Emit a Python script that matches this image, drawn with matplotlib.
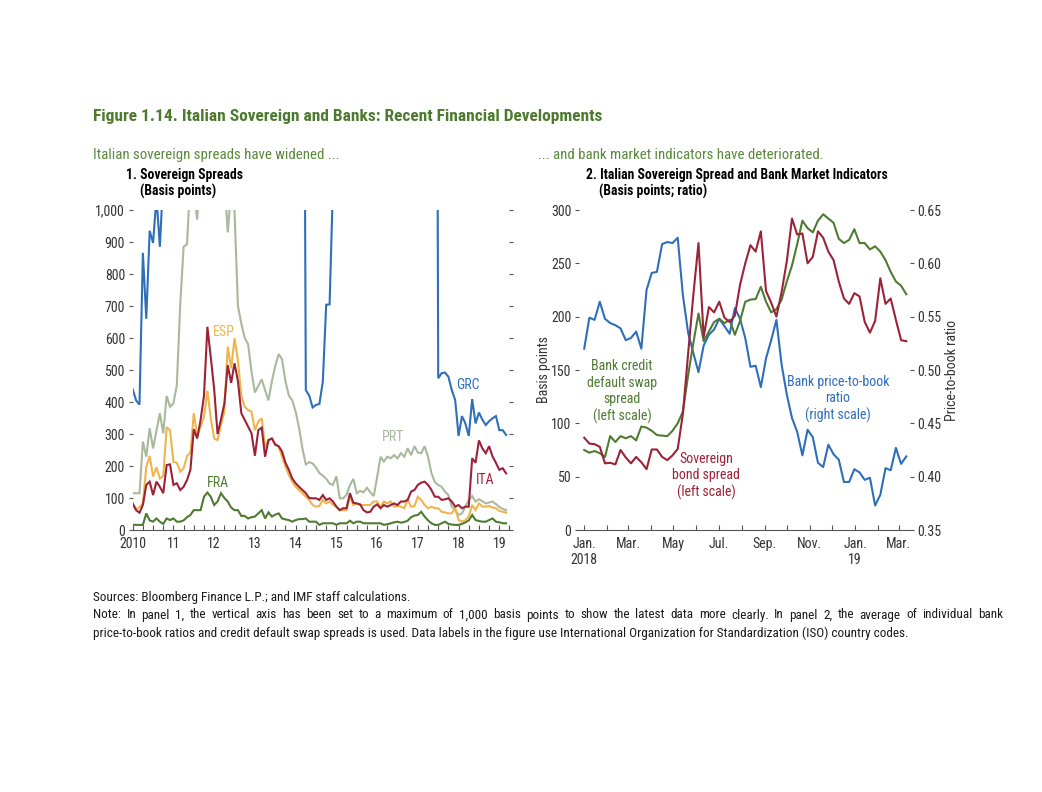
import numpy as np
import pandas as pd
import matplotlib
matplotlib.use('Agg')
import matplotlib.pyplot as plt
import matplotlib.ticker as mticker
import matplotlib.dates as mdates
from matplotlib import font_manager

# ---- panel 1: monthly sovereign spreads, Jan 2010 onwards (basis points)
grc = [440, 405, 392, 866, 660, 935, 897, 1040, 885, 1100, 1120, 1050,
       1100, 1050, 1150, 1250, 1300, 1450, 1400, 1600, 1950, 2100, 2400, 2700,
       2900, 3300, 3000, 2100, 2500, 2800, 2600, 2300, 2050, 1650, 1300, 1150,
       1150, 1050, 1180, 1100, 1150, 1060, 1120, 1050, 1020, 1080, 1060, 1040,
       1030, 1040, 3000, 437, 420, 383, 391, 394, 463, 704, 705, 1080,
       1300, 1200, 1500, 1350, 1550, 1700, 1450, 1350, 1200, 1150, 1100, 1120,
       1200, 1250, 1150, 1080, 1060, 1090, 1100, 1050, 1070, 1080, 1060, 1100,
       1120, 1150, 1060, 1050, 1030, 4000, 474, 490, 492, 479, 437, 406,
       294, 356, 333, 294, 409, 333, 367, 345, 328, 340, 349, 356,
       312, 312, 297]
prt = [115, 115, 115, 276, 229, 318, 255, 310, 365, 302, 419, 385,
       396, 453, 705, 885, 893, 1100, 1060, 970, 1150, 1300, 1500, 1450,
       1600, 1400, 1250, 1100, 930, 1060, 995, 700, 645, 600, 580, 495,
       430, 450, 471, 437, 405, 465, 513, 550, 533, 465, 420, 405,
       370, 320, 255, 205, 212, 208, 195, 178, 170, 160, 145, 141,
       168, 99, 99, 110, 140, 160, 115, 122, 118, 132, 118, 106,
       165, 229, 214, 229, 224, 234, 224, 240, 229, 255, 234, 262,
       242, 240, 262, 229, 178, 150, 141, 135, 120, 109, 73, 62,
       47, 52, 73, 94, 106, 89, 96, 90, 83, 86, 89, 81,
       72, 66, 62]
esp = [78, 65, 71, 83, 198, 231, 167, 196, 161, 169, 321, 312,
       213, 210, 182, 193, 231, 242, 365, 294, 323, 354, 435, 349,
       286, 281, 328, 370, 573, 505, 599, 530, 420, 385, 375, 370,
       312, 339, 349, 260, 281, 286, 271, 260, 229, 198, 172, 151,
       135, 125, 115, 104, 94, 78, 73, 75, 94, 83, 89, 78,
       73, 62, 62, 62, 104, 78, 83, 78, 78, 78, 78, 89,
       89, 73, 89, 83, 89, 73, 75, 73, 68, 94, 73, 75,
       104, 94, 78, 68, 73, 68, 68, 57, 55, 52, 52, 68,
       31, 26, 31, 42, 78, 62, 83, 73, 73, 75, 70, 68,
       60, 57, 54]
ita = [83, 62, 54, 78, 141, 151, 109, 151, 135, 115, 203, 205,
       141, 146, 125, 135, 156, 188, 315, 286, 344, 419, 635, 540,
       440, 300, 345, 395, 515, 460, 521, 465, 365, 344, 323, 302,
       232, 312, 320, 229, 281, 286, 266, 262, 245, 210, 188, 161,
       146, 135, 125, 115, 100, 99, 99, 94, 109, 94, 99, 89,
       73, 62, 68, 68, 115, 85, 83, 80, 62, 55, 57, 73,
       80, 68, 78, 73, 78, 83, 78, 89, 89, 94, 120, 125,
       141, 148, 151, 141, 125, 104, 104, 94, 96, 99, 89, 73,
       78, 68, 73, 73, 224, 210, 280, 255, 240, 262, 230, 210,
       188, 193, 177]
fra = [16, 16, 16, 16, 52, 30, 26, 36, 26, 19, 36, 31,
       36, 26, 26, 30, 40, 47, 62, 62, 62, 104, 117, 104,
       78, 89, 115, 100, 89, 70, 62, 62, 44, 44, 36, 40,
       42, 52, 62, 36, 55, 42, 48, 52, 36, 33, 31, 26,
       31, 34, 34, 36, 26, 26, 26, 16, 21, 21, 21, 21,
       16, 21, 21, 21, 29, 21, 26, 26, 21, 21, 21, 21,
       21, 21, 16, 18, 21, 24, 26, 23, 25, 29, 40, 45,
       47, 57, 42, 30, 21, 16, 16, 21, 26, 19, 17, 16,
       16, 19, 24, 30, 47, 31, 28, 26, 26, 31, 36, 26,
       24, 21, 21]
year_labels = ['2010', '11', '12', '13', '14', '15', '16', '17', '18', '19']

# ---- panel 2: weekly, from 1 Jan 2018
sov_spread = [86.5, 81, 80.5, 78, 62.5, 63, 61.5, 75, 68, 62.5,
              68.5, 63.5, 57, 75.5, 75.5, 68.5, 65.5, 70, 76, 109,
              165, 220, 269, 181, 209, 204, 214, 199, 195, 201,
              230, 250, 267, 261, 280, 224, 213, 200, 223, 252,
              292, 277, 278, 250, 256, 280, 274, 261, 253, 233,
              217, 212, 222, 219, 195, 185, 196, 236, 212, 217,
              197, 178, 177]
bank_cds = [75, 72.5, 74, 72, 68.5, 88, 82.5, 88, 86, 88,
            84, 97, 96, 93, 89, 88.5, 88, 93, 100, 111,
            145, 175, 203, 177, 186, 195, 198, 194, 197, 183,
            196, 214, 216, 216.5, 228, 214, 204, 207, 216, 233,
            248, 268, 290, 283, 279, 290, 296, 292, 288, 273,
            269, 272, 282, 269, 269, 263, 266, 261, 253, 242,
            233, 229, 221]
pb_ratio = [0.520, 0.549, 0.547, 0.564, 0.548, 0.544, 0.542, 0.539, 0.528, 0.530,
            0.536, 0.520, 0.575, 0.591, 0.592, 0.618, 0.620, 0.619, 0.624, 0.570,
            0.535, 0.516, 0.498, 0.523, 0.533, 0.538, 0.548, 0.541, 0.534, 0.558,
            0.548, 0.530, 0.503, 0.504, 0.484, 0.511, 0.528, 0.547, 0.505, 0.477,
            0.455, 0.442, 0.420, 0.444, 0.437, 0.413, 0.409, 0.430, 0.421, 0.416,
            0.395, 0.395, 0.407, 0.404, 0.397, 0.399, 0.373, 0.383, 0.408, 0.406,
            0.427, 0.412, 0.419]
month_labels = ['Jan.\n2018', 'Mar.', 'May', 'Jul.', 'Sep.', 'Nov.', 'Jan.\n19', 'Mar.']

note_sources = 'Sources: Bloomberg Finance L.P.; and IMF staff calculations.'
note_1 = ('Note: In panel 1, the vertical axis has been set to a maximum of 1,000 basis points '
          'to show the latest data more clearly. In panel 2, the average of individual bank')
note_2 = ('price-to-book ratios and credit default swap spreads is used. Data labels in the '
          'figure use International Organization for Standardization (ISO) country codes.')

# colours
c_grc = '#2f6fba'
c_prt = '#a9b99c'
c_esp = '#efb54c'
c_ita = '#9c2337'
c_fra = '#4f7b32'
c_title = '#4e7a2f'
c_sub = '#5a893c'
c_tick = '#333333'

# narrow font if one is around
names = {f.name for f in font_manager.fontManager.ttflist}
narrow = None
for cand in ['Roboto Condensed', 'Liberation Sans Narrow', 'Open Sans Condensed', 'Arial Narrow']:
    if cand in names:
        narrow = cand
        break
if narrow:
    plt.rcParams['font.family'] = [narrow, 'DejaVu Sans']
else:
    plt.rcParams['font.family'] = ['DejaVu Sans']
    plt.rcParams['font.stretch'] = 'condensed'

W, H = 1042, 792
fig = plt.figure(figsize=(W / 100, H / 100), dpi=100)


def fx(x):
    return x / W


def fy(y):
    return 1 - y / H


# ---------------- header
fig.text(fx(93), fy(117), 'Figure 1.14. Italian Sovereign and Banks: Recent Financial Developments',
         color=c_title, fontsize=12.5, weight='bold', va='center', ha='left')
fig.text(fx(93), fy(155), 'Italian sovereign spreads have widened ...', color=c_sub,
         fontsize=10.7, va='center', ha='left')
fig.text(fx(538), fy(155), '... and bank market indicators have deteriorated.', color=c_sub,
         fontsize=10.7, va='center', ha='left')
fig.text(fx(126), fy(175), '1. Sovereign Spreads', fontsize=9.8, weight='bold', va='center')
fig.text(fx(140), fy(191), '(Basis points)', fontsize=9.8, weight='bold', va='center')
fig.text(fx(586), fy(175), '2. Italian Sovereign Spread and Bank Market Indicators', fontsize=9.8,
         weight='bold', va='center')
fig.text(fx(599), fy(191), '(Basis points; ratio)', fontsize=9.8, weight='bold', va='center')

# ---------------- panel 1
ax1 = fig.add_axes([fx(132.7), fy(530), (509.5 - 132.7) / W, 320 / H])
t = 2010 + np.arange(len(grc)) / 12
for vals, col in [(fra, c_fra), (prt, c_prt), (esp, c_esp), (ita, c_ita), (grc, c_grc)]:
    ax1.plot(t[:len(vals)], vals, color=col, lw=1.5, solid_joinstyle='miter')
ax1.set_xlim(2010, 2010 + 110.5 / 12)
ax1.set_ylim(0, 1000)
ax1.set_yticks(np.arange(0, 1001, 100))
ax1.yaxis.set_major_formatter(mticker.FuncFormatter(lambda v, p: '{:,.0f}'.format(v)))
ax1.set_xticks(np.arange(2010, 2020))
ax1.set_xticklabels(year_labels)
ax1.set_xticks(np.arange(2010, 2019.3, 0.25), minor=True)

ax1.text(2018.24, 453, 'GRC', color=c_grc, fontsize=10, ha='center', va='center')
ax1.text(2016.40, 291, 'PRT', color=c_prt, fontsize=10, ha='center', va='center')
ax1.text(2012.23, 619, 'ESP', color=c_esp, fontsize=10, ha='center', va='center')
ax1.text(2018.66, 156, 'ITA', color=c_ita, fontsize=10, ha='center', va='center')
ax1.text(2012.08, 147, 'FRA', color=c_fra, fontsize=10, ha='center', va='center')

# ---------------- panel 2
d = pd.date_range('2018-01-01', periods=len(pb_ratio), freq='7D')
ax2 = fig.add_axes([fx(579), fy(530), 331 / W, 320 / H])
ax2r = ax2.twinx()
ax2r.plot(d, pb_ratio, color=c_grc, lw=1.5)
ax2.plot(d, bank_cds, color=c_fra, lw=1.5)
ax2.plot(d, sov_spread, color=c_ita, lw=1.5)
ax2.set_zorder(ax2r.get_zorder() + 1)
ax2.patch.set_visible(False)

ax2.set_xlim(pd.Timestamp('2017-12-25'), pd.Timestamp('2019-03-16'))
ax2.set_ylim(0, 300)
ax2.set_yticks(np.arange(0, 301, 50))
ax2r.set_ylim(0.35, 0.65)
ax2r.set_yticks(np.arange(0.35, 0.651, 0.05))
ax2r.yaxis.set_major_formatter(mticker.FormatStrFormatter('%.2f'))
major = pd.date_range('2018-01-01', '2019-03-01', freq='2MS')
ax2.set_xticks(major)
ax2.set_xticklabels(month_labels)
ax2.xaxis.set_minor_locator(mdates.MonthLocator())

ax2.text(0.130, 0.433, 'Bank credit\ndefault swap\nspread\n(left scale)', transform=ax2.transAxes,
         color=c_fra, fontsize=10, ha='center', va='center', linespacing=1.2)
ax2.text(0.384, 0.169, 'Sovereign\nbond spread\n(left scale)', transform=ax2.transAxes,
         color=c_ita, fontsize=10, ha='center', va='center', linespacing=1.2)
ax2.text(0.782, 0.409, 'Bank price-to-book\nratio\n(right scale)', transform=ax2.transAxes,
         color=c_grc, fontsize=10, ha='center', va='center', linespacing=1.2)

fig.text(fx(544), fy(370), 'Basis points', rotation=90, fontsize=10, color=c_tick,
         ha='center', va='center')
fig.text(fx(952), fy(370), 'Price-to-book ratio', rotation=90, fontsize=10, color=c_tick,
         ha='center', va='center')

# ---------------- axis styling
for ax in [ax1, ax2, ax2r]:
    for side in ['top', 'left', 'right']:
        ax.spines[side].set_visible(False)
    ax.spines['bottom'].set_color('#555555')
    ax.spines['bottom'].set_linewidth(0.8)
    ax.tick_params(axis='x', which='both', direction='in', length=3.5, width=0.8,
                   color='#555555', labelsize=10, labelcolor=c_tick, pad=5)
    ax.tick_params(axis='y', direction='out', length=3, width=0.8, color='#555555',
                   labelsize=10, labelcolor=c_tick, pad=2.5)
ax2r.spines['bottom'].set_visible(False)
ax2r.tick_params(axis='x', which='both', bottom=False, labelbottom=False)
ax1.tick_params(axis='y', left=True, right=True, labelleft=True, labelright=False)
ax2.tick_params(axis='y', left=True, right=False)
ax2r.tick_params(axis='y', left=False, right=True, labelright=True)

# ---------------- notes (the first note line is justified to the full width)
fig.text(fx(93), fy(597), note_sources, fontsize=9.5, va='center', color='#1a1a1a')
renderer = fig.canvas.get_renderer()
words = note_1.split(' ')
wtexts = [fig.text(0, fy(615), w, fontsize=9.5, va='center', color='#1a1a1a') for w in words]
widths = [wt.get_window_extent(renderer).width for wt in wtexts]
gap = (1003 - 93 - sum(widths)) / (len(words) - 1)
xpos = 93
for wt, wd in zip(wtexts, widths):
    wt.set_x(fx(xpos))
    xpos += wd + gap
fig.text(fx(93), fy(633), note_2, fontsize=9.5, va='center', color='#1a1a1a')

fig.savefig('out.png', dpi=100)
